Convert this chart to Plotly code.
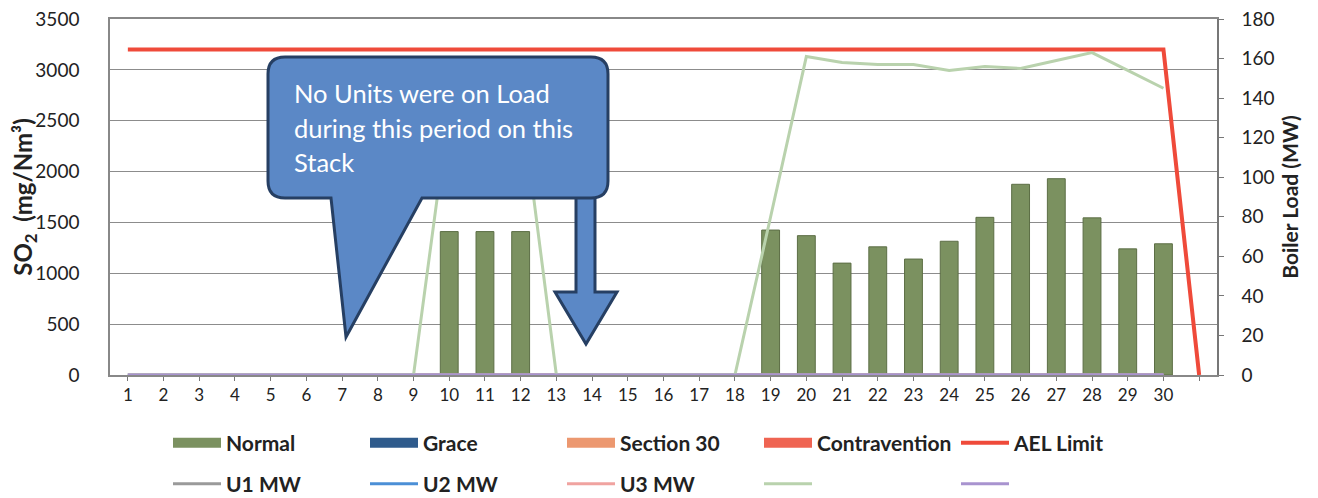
import plotly.graph_objects as go

# ---------------- data ----------------
days = list(range(1, 32))
day_labels = [str(d) for d in range(1, 31)] + [""]

normal = [None]*9 + [1410, 1410, 1410] + [None]*6 + [1425, 1370, 1100, 1260, 1140, 1315, 1550, 1875, 1930, 1545, 1240, 1290] + [None]
grace = [None]*31
section30 = [None]*31
contravention = [None]*31
ael_limit = [3200]*30 + [0]

u1_mw = [0]*30 + [None]
u2_mw = [0]*30 + [None]
u3_mw = [0]*30 + [None]
u4_mw = [0]*9 + [135, 140, 141] + [0]*6 + [80, 161, 158, 157, 157, 154, 156, 155, 159, 163, 154, 145] + [None]
u5_mw = [0]*30 + [None]

# ---------------- layout helpers ----------------
# page has an 8px body margin, so the figure is drawn 8px in from the window corner
OFF = 8
WIN_W, WIN_H = 1318, 498
W, H = WIN_W - OFF, WIN_H - OFF
# plot-area edges in window pixels
L, R, T, B = 110, 1217, 19, 375
FONT = "Lato"


def px(x):
    return (x - L) / (R - L)


def py(y):
    return (B - y) / (B - T)


def path(cmds):
    out = []
    for c in cmds:
        if isinstance(c, str):
            out.append(c)
        else:
            out.append(f"{px(c[0]):.5f},{py(c[1]):.5f}")
    return " ".join(out)


fig = go.Figure()

bar_series = [
    ("Normal", normal, "#7b9160", "#5c6e45"),
    ("Grace", grace, "#2f5b8c", "#2f5b8c"),
    ("Section 30", section30, "#ec9870", "#ec9870"),
    ("Contravention", contravention, "#ef6452", "#ef6452"),
]
for name, vals, col, lcol in bar_series:
    fig.add_trace(go.Bar(x=days, y=vals, width=0.5, name=name, legendgroup=name, showlegend=False,
                         marker=dict(color=col, line=dict(color=lcol, width=1))))
    # legend swatch (wide rectangle, like the reference)
    fig.add_trace(go.Scatter(x=[None], y=[None], mode="lines", name=name, legendgroup=name,
                             legend="legend", line=dict(color=col, width=12), hoverinfo="skip"))

line_kw = dict(x=days, mode="lines", yaxis="y2", legend="legend2", cliponaxis=False)
fig.add_trace(go.Scatter(y=u1_mw, name="U1 MW", line=dict(color="#9a9a9a", width=3), **line_kw))
fig.add_trace(go.Scatter(y=u2_mw, name="U2 MW", line=dict(color="#4b8fd6", width=3), **line_kw))
fig.add_trace(go.Scatter(y=u3_mw, name="U3 MW", line=dict(color="#f0a3a0", width=3), **line_kw))
fig.add_trace(go.Scatter(y=u4_mw, name=" ", line=dict(color="#b9d2ad", width=3), **line_kw))
fig.add_trace(go.Scatter(y=u5_mw, name="  ", line=dict(color="#a893cf", width=3), **line_kw))

fig.add_trace(go.Scatter(x=days, y=ael_limit, mode="lines", name="AEL Limit", legend="legend",
                         line=dict(color="#ef4a3a", width=4)))

# ---------------- callout ----------------
r = 17
bx0, bx1, by0, by1 = 268, 608, 57, 198
callout = path([
    "M", (bx0 + r, by0), "L", (bx1 - r, by0), "Q", (bx1, by0), (bx1, by0 + r),
    "L", (bx1, by1 - r), "Q", (bx1, by1), (bx1 - r, by1),
    "L", (422, by1), "L", (346, 337), "L", (331, by1),
    "L", (bx0 + r, by1), "Q", (bx0, by1), (bx0, by1 - r),
    "L", (bx0, by0 + r), "Q", (bx0, by0), (bx0 + r, by0), "Z",
])
arrow = path([
    "M", (576, 190), "L", (595, 190), "L", (595, 292), "L", (617, 292),
    "L", (586, 344), "L", (555, 292), "L", (576, 292), "Z",
])
shapes = [
    dict(type="path", xref="paper", yref="paper", path=arrow, fillcolor="#5b88c6",
         line=dict(color="#263f63", width=3), layer="above"),
    dict(type="path", xref="paper", yref="paper", path=callout, fillcolor="#5b88c6",
         line=dict(color="#263f63", width=3), layer="above"),
]
annotations = []
for i, txt in enumerate(["No Units were on Load", "during this period on this", "Stack"]):
    annotations.append(dict(x=px(292), y=py(93 + i * 34.5), xref="paper", yref="paper",
                            text=txt, showarrow=False, xanchor="left", yanchor="middle",
                            font=dict(family=FONT, size=25.5, color="white")))

axis_font = dict(family=FONT, size=19, color="#222222")
legend_font = dict(family=FONT, size=21, color="#222222", weight="bold")

fig.update_layout(
    width=W, height=H,
    margin=dict(l=L - OFF, r=W - (R - OFF), t=T - OFF, b=H - (B - OFF), autoexpand=False),
    paper_bgcolor="white", plot_bgcolor="white",
    barmode="overlay",
    font=dict(family=FONT, color="#222222"),
    xaxis=dict(range=[0.5, 31.5], tickvals=days, ticktext=day_labels, automargin=False,
               tickfont=dict(family=FONT, size=17, color="#222222"), ticklabeloverflow="allow",
               ticks="outside", ticklen=4, tickcolor="#777777",
               showline=True, mirror=True, linecolor="#888888", linewidth=1.5,
               showgrid=False, zeroline=False),
    yaxis=dict(range=[0, 3500], tickvals=[0, 500, 1000, 1500, 2000, 2500, 3000, 3500],
               tickfont=axis_font, automargin=False, ticklabeloverflow="allow",
               title=dict(text="<b>SO<sub>2</sub>  (mg/Nm³)</b>", font=dict(family=FONT, size=24, color="#222222"), standoff=2),
               showgrid=True, gridcolor="#8c8c8c", gridwidth=1.2,
               showline=True, mirror=False, linecolor="#888888", linewidth=1.5, zeroline=False,
               ticks="outside", ticklen=0, ticklabelstandoff=25),
    yaxis2=dict(range=[0, 180], tickvals=list(range(0, 181, 20)), overlaying="y", side="right",
                tickfont=axis_font, automargin=False, ticklabeloverflow="allow",
                title=dict(text="<b>Boiler Load (MW)</b>", font=dict(family=FONT, size=21, color="#222222"), standoff=10),
                showgrid=False, showline=True, linecolor="#777777", linewidth=1.5, zeroline=False,
                ticks="outside", ticklen=5, tickcolor="#777777", ticklabelstandoff=14),
    legend=dict(orientation="h", x=px(168), xanchor="left", y=py(443), yanchor="middle",
                font=legend_font, entrywidth=134, itemwidth=48,
                bgcolor="rgba(0,0,0,0)", traceorder="normal"),
    legend2=dict(orientation="h", x=px(168), xanchor="left", y=py(484), yanchor="middle",
                 font=legend_font, entrywidth=134, itemwidth=48,
                 bgcolor="rgba(0,0,0,0)", traceorder="normal"),
    shapes=shapes,
    annotations=annotations,
    showlegend=True,
)

fig.write_html("out.html")
